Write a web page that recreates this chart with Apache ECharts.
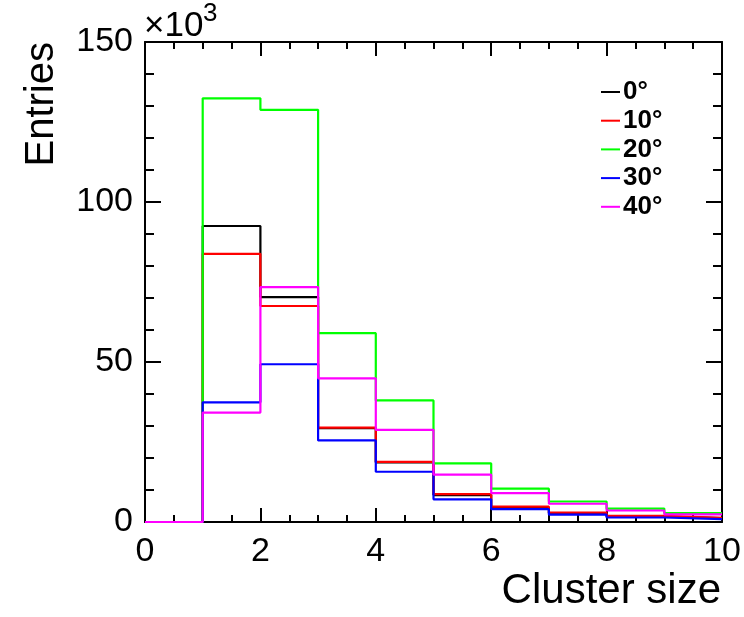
<!DOCTYPE html>
<html>
<head>
<meta charset="utf-8">
<script src="https://cdn.jsdelivr.net/npm/echarts@6/dist/echarts.min.js"></script>
<style>
  html, body { margin: 0; padding: 0; background: #fff; }
  #chart { width: 744px; height: 617px; }
</style>
</head>
<body>
<div id="chart"></div>
<script>
// Cluster-size histograms (bins of width 1 from 0 to 10), entries in units of 10^3
const binEdges = [0, 1, 2, 3, 4, 5, 6, 7, 8, 9, 10];
const angleLabels = ['0°', '10°', '20°', '30°', '40°'];
const angleColors = ['#000000', '#ff0000', '#00ff00', '#0000ff', '#ff00ff'];
const entries0  = [0, 92.5, 70.3, 29.3, 18.6, 8.4, 4.5, 2.7, 1.7, 1.2];
const entries10 = [0, 83.8, 67.5, 29.5, 18.8, 8.7, 4.8, 2.9, 1.9, 1.3];
const entries20 = [0, 132.4, 128.8, 59.0, 38.0, 18.3, 10.4, 6.4, 4.2, 2.8];
const entries30 = [0, 37.4, 49.3, 25.5, 15.7, 7.1, 4.0, 2.3, 1.4, 0.9];
const entries40 = [0, 34.2, 73.4, 44.9, 28.8, 14.8, 9.0, 5.7, 3.6, 2.4];
const allEntries = [entries0, entries10, entries20, entries30, entries40];
const xTicks = { min: 0, max: 10, step: 2 };
const yTicks = { min: 0, max: 150, step: 50 };

const FONT = 'Liberation Sans, Arial, Helvetica, sans-serif';

// histogram outline: one point per left bin edge, last point closes the final bin
function stepData(values) {
  const pts = values.map((v, i) => [binEdges[i], v]);
  pts.push([binEdges[binEdges.length - 1], values[values.length - 1]]);
  return pts;
}

const chart = echarts.init(document.getElementById('chart'), null, { renderer: 'canvas' });

const axisLineStyle = { color: '#000', width: 2 };

function xAxisDef(showLabels, position) {
  return {
    type: 'value', position: position,
    min: xTicks.min, max: xTicks.max, interval: xTicks.step,
    axisLine: { show: true, lineStyle: axisLineStyle, onZero: false },
    axisTick: { show: true, inside: true, length: 14, lineStyle: { color: '#000', width: 2 } },
    minorTick: { show: true, splitNumber: 4, length: 7, lineStyle: { color: '#000', width: 2 } },
    axisLabel: { show: showLabels, color: '#000', fontSize: 34, fontFamily: FONT, margin: 13 },
    splitLine: { show: false }
  };
}
function yAxisDef(showLabels, position) {
  return {
    type: 'value', position: position,
    min: yTicks.min, max: yTicks.max, interval: yTicks.step,
    axisLine: { show: true, lineStyle: axisLineStyle, onZero: false },
    axisTick: { show: true, inside: true, length: 16, lineStyle: { color: '#000', width: 2 } },
    minorTick: { show: true, splitNumber: 5, length: 9, lineStyle: { color: '#000', width: 2 } },
    axisLabel: { show: showLabels, color: '#000', fontSize: 34, fontFamily: FONT, margin: 12 },
    splitLine: { show: false }
  };
}

const series = allEntries.map((vals, k) => ({
  name: angleLabels[k],
  type: 'line',
  step: 'end',
  xAxisIndex: 0,
  yAxisIndex: 0,
  data: stepData(vals),
  showSymbol: false,
  symbol: 'none',
  color: angleColors[k],
  lineStyle: { color: angleColors[k], width: 2.2 },
  z: 2 + k,
  clip: true
}));

chart.setOption({
  animation: false,
  backgroundColor: '#fff',
  grid: { left: 145, right: 22, top: 42, bottom: 95, containLabel: false },
  xAxis: [xAxisDef(true, 'bottom'), xAxisDef(false, 'top')],
  yAxis: [yAxisDef(true, 'left'), yAxisDef(false, 'right')],
  legend: {
    orient: 'vertical',
    left: 601,
    top: 78,
    padding: 0,
    itemWidth: 19,
    itemHeight: 2,
    itemGap: 0.7,
    icon: 'rect',
    data: angleLabels,
    textStyle: { fontSize: 26, fontWeight: 'bold', fontFamily: FONT, color: '#000', lineHeight: 20, padding: [0, 0, 8, -2] }
  },
  graphic: [
    {
      type: 'text', x: 42, y: 42, rotation: Math.PI / 2,
      style: { text: 'Entries', fontSize: 40, fontFamily: FONT, fill: '#000', align: 'right', verticalAlign: 'middle' }
    },
    {
      type: 'text', x: 721, y: 591,
      style: { text: 'Cluster size', fontSize: 42, fontFamily: FONT, fill: '#000', align: 'right', verticalAlign: 'middle' }
    },
    {
      type: 'text', x: 144, y: 26,
      style: { text: '×10', fontSize: 35, fontFamily: FONT, fill: '#000', align: 'left', verticalAlign: 'middle' }
    },
    {
      type: 'text', x: 203, y: 14,
      style: { text: '3', fontSize: 26, fontFamily: FONT, fill: '#000', align: 'left', verticalAlign: 'middle' }
    }
  ],
  series: series
});
</script>
</body>
</html>
